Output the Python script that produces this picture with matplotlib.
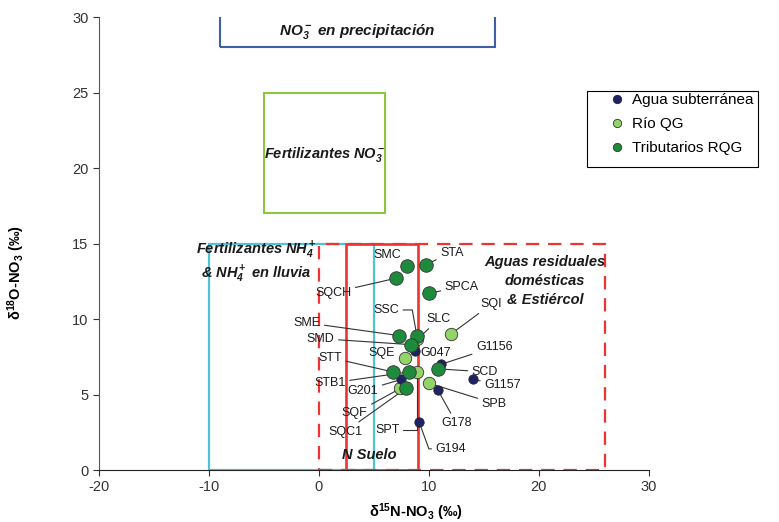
import matplotlib
matplotlib.use("Agg")
import matplotlib.pyplot as plt
from matplotlib.patches import Rectangle
from matplotlib.lines import Line2D

plt.rcParams['font.family'] = ['Liberation Sans', 'DejaVu Sans']
plt.rcParams['mathtext.default'] = 'regular'
plt.rcParams['axes.unicode_minus'] = False

# datos
agua_names = ['G047', 'G201', 'G194', 'G178', 'G1157', 'G1156']
agua_x = [8.7, 7.5, 9.1, 10.8, 14.0, 11.1]
agua_y = [7.9, 6.0, 3.2, 5.3, 6.0, 7.0]

rio_names = ['SQI', 'SLC', 'SQE', 'SPT', 'SPB', 'SQF']
rio_x = [12.0, 8.95, 7.8, 8.9, 10.0, 7.4]
rio_y = [9.0, 8.65, 7.45, 6.5, 5.75, 5.4]

trib_names = ['SMC', 'STA', 'SQCH', 'SPCA', 'SME', 'SSC', 'SMD', 'SCD', 'STT', 'STB1', 'SQC1']
trib_x = [8.0, 9.7, 7.0, 10.0, 7.3, 8.9, 8.4, 10.8, 6.7, 8.2, 7.9]
trib_y = [13.5, 13.6, 12.7, 11.7, 8.9, 8.9, 8.3, 6.7, 6.5, 6.5, 5.4]

# posicion de etiquetas (x, y, con linea guia, estilo de conexion)
label_pos = {
    'SMC': (6.2, 14.25, False, None),
    'STA': (12.1, 14.4, True, None),
    'SQCH': (1.3, 11.75, True, None),
    'SPCA': (13.0, 12.15, True, None),
    'SSC': (6.1, 10.6, True, "angle,angleA=0,angleB=100,rad=0"),
    'SLC': (10.9, 10.0, True, None),
    'SQI': (15.7, 11.0, True, None),
    'SME': (-1.1, 9.75, True, None),
    'SMD': (0.15, 8.7, True, None),
    'G047': (10.6, 7.75, False, None),
    'SQE': (5.7, 7.75, False, None),
    'STT': (1.0, 7.45, True, None),
    'G1156': (15.95, 8.15, True, None),
    'SCD': (15.1, 6.5, True, None),
    'G1157': (16.7, 5.6, True, None),
    'STB1': (1.0, 5.75, True, None),
    'G201': (4.0, 5.25, True, None),
    'SPB': (15.95, 4.4, True, None),
    'SQF': (3.25, 3.75, True, None),
    'G178': (12.5, 3.1, True, None),
    'SQC1': (2.4, 2.55, True, None),
    'SPT': (6.2, 2.65, True, "angle,angleA=0,angleB=90,rad=0"),
    'G194': (12.0, 1.4, True, "angle,angleA=180,angleB=110,rad=0"),
}

c_agua = '#1f2266'
c_rio = '#92d36a'
c_trib = '#1e8a3c'

fig = plt.figure(figsize=(7.79, 5.22), dpi=100)
ax = fig.add_axes([0.127, 0.0996, 0.706, 0.8678])

# cajas de fuentes
ax.add_patch(Rectangle((-9, 28), 25, 5, fill=False, ec='#3f5ea8', lw=1.5, zorder=1))
ax.add_patch(Rectangle((-5, 17), 11, 8, fill=False, ec='#8dc63f', lw=1.5, zorder=1))
ax.add_patch(Rectangle((-10, 0), 15, 15, fill=False, ec='#4fc3d8', lw=1.6, zorder=1))
ax.add_patch(Rectangle((0, 0), 26, 15, fill=False, ec='#ee3333', lw=1.6,
                       ls=(0, (6, 4)), zorder=1))
ax.add_patch(Rectangle((2.5, 0), 6.5, 15, fill=False, ec='#ee3333', lw=1.9, zorder=1))

bi = dict(fontweight='bold', fontstyle='italic', color='#1a1a1a')
ax.text(3.5, 29.05, r'NO$_3^-$ en precipitación', ha='center', va='center', fontsize=11, **bi)
ax.text(0.5, 20.9, r'Fertilizantes NO$_3^-$', ha='center', va='center', fontsize=10.5, **bi)
ax.text(-5.7, 13.75, 'Fertilizantes NH$_4^+$\n& NH$_4^+$ en lluvia', ha='center', va='center',
        fontsize=10.5, linespacing=1.2, **bi)
for txt, ty in [('Aguas residuales', 13.75), ('domésticas', 12.5), ('& Estiércol', 11.25)]:
    ax.text(20.55, ty, txt, ha='center', va='center', fontsize=10.5, **bi)
ax.text(4.6, 1.0, 'N Suelo', ha='center', va='center', fontsize=10.5, **bi)

# puntos
ax.scatter(rio_x, rio_y, s=80, c=c_rio, edgecolors='#333333', linewidths=0.6, zorder=4)
ax.scatter(agua_x, agua_y, s=45, c=c_agua, edgecolors='#222222', linewidths=0.6, zorder=5)
ax.scatter(trib_x, trib_y, s=95, c=c_trib, edgecolors='#333333', linewidths=0.6, zorder=6)

coords = {}
for names, xs, ys in [(agua_names, agua_x, agua_y), (rio_names, rio_x, rio_y),
                      (trib_names, trib_x, trib_y)]:
    for n, x, y in zip(names, xs, ys):
        coords[n] = (x, y)

for n, (tx, ty, leader, cstyle) in label_pos.items():
    if leader:
        ap = dict(arrowstyle='-', color='#333333', lw=0.8, shrinkA=1, shrinkB=0)
        if cstyle:
            ap['connectionstyle'] = cstyle
        ax.annotate(n, xy=coords[n], xytext=(tx, ty), ha='center', va='center',
                    fontsize=9, color='#1a1a1a', arrowprops=ap, zorder=3)
    else:
        ax.text(tx, ty, n, ha='center', va='center', fontsize=9, color='#1a1a1a', zorder=3)

ax.set_xlim(-20, 30)
ax.set_ylim(0, 30)
ax.set_xticks([-20, -10, 0, 10, 20, 30])
ax.set_yticks([0, 5, 10, 15, 20, 25, 30])
ax.spines['top'].set_visible(False)
ax.spines['right'].set_visible(False)
ax.spines['left'].set_color('#555555')
ax.spines['bottom'].set_color('#222222')
ax.tick_params(direction='out', length=4, labelsize=10.5, colors='#333333')
ax.set_xlabel('δ$^{15}$N-NO$_3$ (‰)', fontsize=10.5, fontweight='bold')
ax.set_ylabel('δ$^{18}$O-NO$_3$ (‰)', fontsize=10.5, fontweight='bold')
ax.xaxis.set_label_coords(0.576, -0.07)
ax.yaxis.set_label_coords(-0.13, 0.435)

# leyenda: marco dibujado aparte
fig.patches.append(Rectangle((587 / 779, 1 - 167 / 522), 171 / 779, 76 / 522,
                             transform=fig.transFigure, fill=False, ec='black', lw=0.8))
handles = [
    Line2D([], [], ls='none', marker='o', ms=6, mfc=c_agua, mec='#222222', mew=0.6),
    Line2D([], [], ls='none', marker='o', ms=6, mfc=c_rio, mec='#333333', mew=0.6),
    Line2D([], [], ls='none', marker='o', ms=6, mfc=c_trib, mec='#333333', mew=0.6),
]
fig.legend(handles, ['Agua subterránea', 'Río QG', 'Tributarios RQG'],
           loc='upper left', bbox_to_anchor=(609 / 779, 1 - 93 / 522), fontsize=11,
           frameon=False, handletextpad=0.48, handlelength=1.0, borderpad=0,
           labelspacing=0.67, borderaxespad=0)

fig.savefig('out.png', dpi=100)
